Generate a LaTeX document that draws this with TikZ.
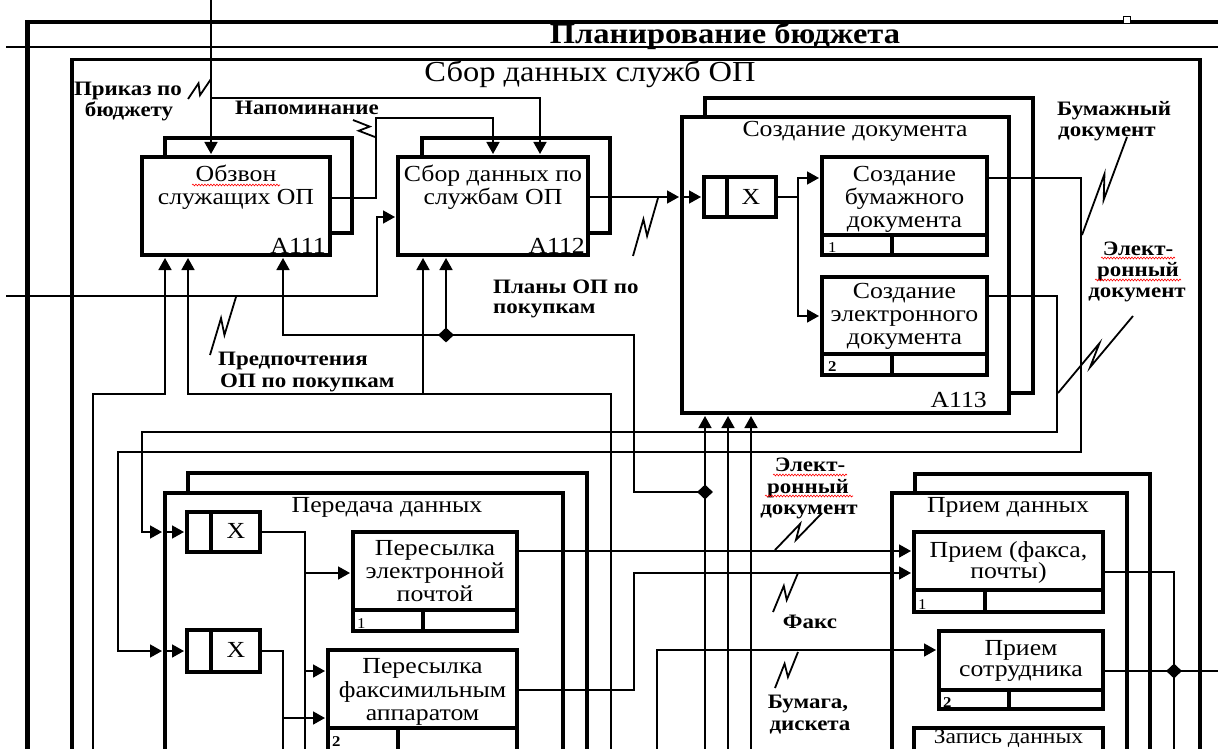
\documentclass[tikz,border=0pt]{standalone}
\usepackage{fontspec}
\setmainfont{Liberation Serif}[FakeStretch=1.12]
\usetikzlibrary{arrows.meta,calc,shapes.geometric,decorations.pathmorphing}
\newcommand\squig[2]{\draw[sql] (#1) -- ($(#1)!0.62!(#2)!5pt!90:(#2)$) -- ($(#1)!0.40!(#2)!5pt!-90:(#2)$) -- (#2);}
\begin{document}
\begin{tikzpicture}[x=1pt,y=-1pt,
  thinl/.style={line width=1.7pt},
  sql/.style={line width=1.8pt},
  framel/.style={line width=4.5pt},
  boxl/.style={line width=4pt},
  arr/.style={thinl,-{Triangle[length=12pt,width=13pt]},shorten >=1pt},
  bx/.style={draw,boxl,rectangle,inner sep=0},
  txt/.style={font=\fontsize{23}{24}\selectfont,inner sep=0,anchor=base},
  ttl/.style={font=\fontsize{23}{24}\selectfont,inner sep=0,anchor=base},
  btxt/.style={font=\bfseries\fontsize{20.5}{22}\selectfont,inner sep=0,anchor=base},
  ftxt/.style={font=\fontsize{15}{15}\selectfont,inner sep=0,anchor=base west},
  dot/.style={diamond,fill,inner sep=0,minimum width=16pt,minimum height=15pt},
  wavy/.style={red,line width=0.6pt,decorate,decoration={snake,amplitude=0.9pt,segment length=3pt}},
]
\useasboundingbox (0,0) rectangle (1218,749);
\begin{scope}
\clip (0,0) rectangle (1218,749);
% frames
\node[draw,framel,rectangle,inner sep=0,minimum width=1240pt,minimum height=790pt,anchor=north west] (outer) at (25,20) {};
\node[draw,line width=3.5pt,rectangle,inner sep=0,minimum width=1128pt,minimum height=760pt,anchor=north west] (inner) at (70,58) {};
\coordinate (tl) at (6,47);
\coordinate (tr) at (1218,47);
\draw[line width=2pt] (tl) -- (tr);
\node[draw,fill=white,line width=0.8pt,minimum size=7pt,inner sep=0] (sq) at (1127,20) {};
\node[font=\bfseries\fontsize{29}{29}\selectfont,inner sep=0,anchor=base] (title) at (725,44) {Планирование бюджета};
\node[font=\fontsize{29}{29}\selectfont,inner sep=0,anchor=base] (stitle) at (590,82) {Сбор данных служб ОП};

% boxes
\node[bx,minimum width=188pt,minimum height=98pt] (a111) at (236,206) {};
\node[bx,minimum width=190pt,minimum height=98pt] (a112) at (493,206) {};
\node[bx,minimum width=327pt,minimum height=296pt] (a113) at (845.5,265) {};
\node[bx,minimum width=72pt,minimum height=40pt] (xa) at (740,197) {};
\node[bx,minimum width=165pt,minimum height=98pt] (bum) at (904.5,206) {};
\node[bx,minimum width=165pt,minimum height=98pt] (el) at (904.5,326) {};
\node[bx,minimum width=398pt,minimum height=287pt] (per) at (364,636.5) {};
\node[bx,minimum width=73pt,minimum height=40pt] (x1) at (223.5,532) {};
\node[bx,minimum width=73pt,minimum height=42pt] (x2) at (223.5,651) {};
\node[bx,minimum width=164pt,minimum height=99pt] (pe) at (435,581.5) {};
\node[bx,minimum width=189pt,minimum height=140pt] (pf) at (422.5,720) {};
\node[bx,minimum width=235pt,minimum height=297pt] (pr) at (1009.5,641.5) {};
\node[bx,minimum width=189pt,minimum height=80pt] (pf1) at (1008.5,572) {};
\node[bx,minimum width=164pt,minimum height=78pt] (ps) at (1021,670) {};
\node[bx,minimum width=189pt,minimum height=72pt] (zd) at (1008.5,764) {};

% shadows
\draw[boxl] (165,157) -- (165,138) -- (352,138) -- (352,233) -- (330,233);
\draw[boxl] (422,157) -- (422,138) -- (610,138) -- (610,233) -- (588,233);
\draw[boxl] (705,117) -- (705,98) -- (1033,98) -- (1033,393) -- (1009,393);
\draw[boxl] (188,493) -- (188,473) -- (587,473) -- (587,760);
\draw[boxl] (915,493) -- (915,474) -- (1150,474) -- (1150,760);

% junction dividers and footers
\draw[boxl] (727,177) -- (727,217);
\draw[boxl] (211,512) -- (211,552);
\draw[boxl] (211,630) -- (211,672);
\draw[boxl] (822,235) -- (987,235) (892,235) -- (892,255);
\draw[boxl] (822,354) -- (987,354) (892,354) -- (892,375);
\draw[boxl] (353,610) -- (517,610) (423,610) -- (423,631);
\draw[boxl] (328,728) -- (517,728) (398,728) -- (398,760);
\draw[boxl] (914,590) -- (1103,590) (985,590) -- (985,612);
\draw[boxl] (939,690) -- (1103,690) (1009,690) -- (1009,709);

% box texts
\node[txt] (t1a) at (236,182) {Обзвон};
\node[txt] (t1b) at (236,204) {служащих ОП};
\node[txt,anchor=base east] (n1) at (326,253) {А111};
\node[txt] (t2a) at (493,182) {Сбор данных по};
\node[txt] (t2b) at (493,204) {службам ОП};
\node[txt,anchor=base east] (n2) at (585,253) {А112};
\node[ttl] (t3) at (855,137) {Создание документа};
\node[txt,anchor=base east] (n3) at (987,407) {А113};
\node[txt] (xat) at (751,204) {X};
\node[txt] (b1) at (904.5,182) {Создание};
\node[txt] (b2) at (904.5,204) {бумажного};
\node[txt] (b3) at (904.5,227) {документа};
\node[ftxt] (bn) at (828,252) {1};
\node[txt] (e1) at (904.5,298) {Создание};
\node[txt] (e2) at (904.5,321) {электронного};
\node[txt] (e3) at (904.5,344) {документа};
\node[ftxt,font=\bfseries\fontsize{15}{15}\selectfont] (en) at (828,371) {2};
\node[ttl] (t4) at (387,512) {Передача данных};
\node[txt] (x1t) at (236,538) {X};
\node[txt] (x2t) at (236,657) {X};
\node[txt] (p1) at (435,555) {Пересылка};
\node[txt] (p2) at (435,578) {электронной};
\node[txt] (p3) at (435,601) {почтой};
\node[ftxt] (pn) at (357,628) {1};
\node[txt] (f1) at (422.5,673) {Пересылка};
\node[txt] (f2) at (422.5,697) {факсимильным};
\node[txt] (f3) at (422.5,720) {аппаратом};
\node[ftxt,font=\bfseries\fontsize{15}{15}\selectfont] (fn) at (332,746) {2};
\node[ttl] (t5) at (1008,512) {Прием данных};
\node[txt] (r1) at (1008.5,557) {Прием (факса,};
\node[txt] (r2) at (1008.5,578) {почты)};
\node[ftxt] (rn) at (918,609) {1};
\node[txt] (s1) at (1021,655) {Прием};
\node[txt] (s2) at (1021,676) {сотрудника};
\node[ftxt,font=\bfseries\fontsize{15}{15}\selectfont] (sn) at (943,707) {2};
\node[txt,font=\fontsize{21}{22}\selectfont] (z1) at (1008.5,743) {Запись данных};

% connectors
\coordinate (topin) at (211,0);
\coordinate (br1) at (211,98);
\draw[arr] (topin) -- (topin |- a111.north);
\draw[arr] (br1) -- (540,98) -- (540,0 |- a112.north);
\draw[arr] (a111.east |- 0,198) -- (376,198) -- (376,118) -- (493,118) -- (493,0 |- a112.north);
\coordinate (lin) at (6,296);
\draw[arr] (lin) -- (377,296) -- (377,217) -- (a112.west |- 0,217);
\draw[arr] (a112.east |- 0,197) -- (a113.west |- 0,197);
\draw[arr] (a113.west |- 0,197) -- (xa.west);
\draw[arr] (xa.east) -- (798,197) |- (bum.west |- 0,178);
\draw[arr] (798,197) |- (el.west |- 0,316);
\draw[arr] (bum.east |- 0,178) -- (1081,178) -- (1081,452) -- (118,452) -- (118,651) -- (per.west |- 0,651);
\draw[arr] (per.west |- 0,651) -- (x2.west);
\draw[arr] (el.east |- 0,296) -- (1057,296) -- (1057,432) -- (142,432) -- (142,532) -- (per.west |- 0,532);
\draw[arr] (per.west |- 0,532) -- (x1.west);
\draw[thinl] (x1.east) -- (305,532) -- (305,760);
\draw[arr] (305,573) -- (pe.west |- 0,573);
\draw[arr] (305,671) -- (pf.west |- 0,671);
\draw[thinl] (x2.east) -- (283,651) -- (283,760);
\draw[arr] (283,718) -- (pf.west |- 0,718);
\draw[arr] (pe.east |- 0,551) -- (pf1.west |- 0,551);
\draw[arr] (pf.east |- 0,690) -- (634,690) -- (634,573) -- (pf1.west |- 0,573);
\draw[arr] (657,760) -- (657,650) -- (ps.west |- 0,650);
\draw[thinl] (pf1.east |- 0,572) -- (1174,572) -- (1174,760);
\draw[thinl] (ps.east |- 0,671) -- (1218,671);
\node[dot] (d3) at (1174,671) {};
\draw[arr] (93,760) -- (93,394) -- (165,394) -- (165,0 |- a111.south);
\draw[arr] (611,760) -- (611,394) -- (188,394) -- (188,0 |- a111.south);
\draw[arr] (423,394) -- (423,0 |- a112.south);
\draw[arr] (705,760) -- (705,0 |- a113.south);
\node[dot] (d2) at (705,492) {};
\draw[arr] (d2.center) -- (634,492) -- (634,335) -- (283,335) -- (283,0 |- a111.south);
\node[dot] (d1) at (446,335) {};
\draw[arr] (d1.center) -- (446,0 |- a112.south);
\draw[arr] (728,760) -- (728,0 |- a113.south);
\draw[arr] (751,760) -- (751,0 |- a113.south);

% labels
\node[btxt] (l1a) at (128,96) {Приказ по};
\node[btxt] (l1b) at (129,117) {бюджету};
\squig{211,79}{188,99}
\node[btxt] (l2) at (307,115) {Напоминание};
\squig{353,120}{375,137}
\node[btxt,anchor=base west] (l3a) at (218,365) {Предпочтения};
\node[btxt,anchor=base west] (l3b) at (220,387) {ОП по покупкам};
\squig{236,297}{210,355}
\node[btxt,anchor=base west] (l4a) at (493,293) {Планы ОП по};
\node[btxt,anchor=base west] (l4b) at (493,313) {покупкам};
\squig{658,198}{633,256}
\node[btxt,anchor=base west] (l5a) at (1057,116) {Бумажный};
\node[btxt,anchor=base west] (l5b) at (1058,136) {документ};
\squig{1127,137}{1082,235}
\node[btxt] (l6a) at (1138,255) {Элект-};
\node[btxt] (l6b) at (1138,276) {ронный};
\node[btxt] (l6c) at (1137,297) {документ};
\squig{1133,316}{1058,393}
\node[btxt] (l7a) at (810,471) {Элект-};
\node[btxt] (l7b) at (808,493) {ронный};
\node[btxt] (l7c) at (809,514) {документ};
\squig{822,513}{775,550}
\node[btxt] (l8) at (810,628) {Факс};
\squig{798,573}{773,612}
\node[btxt] (l9a) at (808,708) {Бумага,};
\node[btxt] (l9b) at (810,730) {дискета};
\squig{798,652}{775,688}

% spell-check underlines
\draw[wavy] (192,185) -- (280,185);
\draw[wavy] (1101,258) -- (1175,258);
\draw[wavy] (1095,280) -- (1181,280);
\draw[wavy] (773,475) -- (847,475);
\draw[wavy] (765,496) -- (853,496);
\end{scope}
\end{tikzpicture}
\end{document}
